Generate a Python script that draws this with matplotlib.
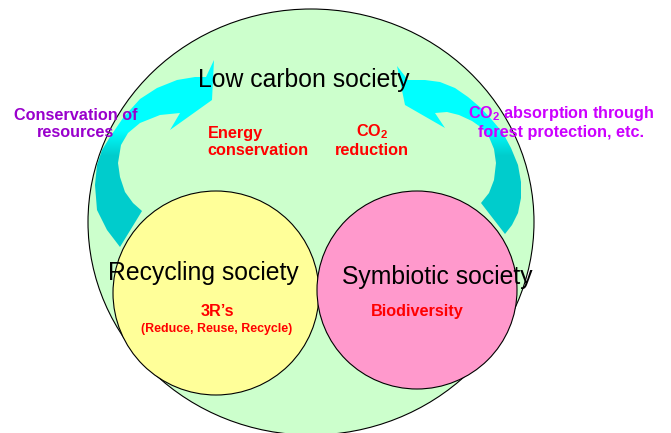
import numpy as np
import matplotlib.pyplot as plt
from matplotlib.patches import Ellipse, Polygon
from matplotlib.colors import LinearSegmentedColormap

plt.rcParams['font.family'] = ['Liberation Sans', 'DejaVu Sans']
plt.rcParams['mathtext.fontset'] = 'custom'
plt.rcParams['mathtext.rm'] = 'Liberation Sans:bold'
plt.rcParams['mathtext.bf'] = 'Liberation Sans:bold'

# society names and their labels
societies = ['Low carbon society', 'Recycling society', 'Symbiotic society']
inner_labels = ['Energy\nconservation', 'CO$_2$\nreduction', '3R\u2019s', 'Biodiversity']
sub_label = '(Reduce, Reuse, Recycle)'
side_labels = ['Conservation of\nresources', 'CO$_2$ absorption through\nforest protection, etc.']

# circles (pixel space): centre x, centre y, width, height
big = (311, 222, 446, 426)
recycle = (216, 293, 206, 204)
symbio = (417, 290, 200, 198)

# curved arrow outlines
left_arrow = [(120, 247), (107, 230), (97, 210), (95, 185), (97, 165), (102, 150),
              (110, 137), (123, 118), (140, 99), (157, 88), (177, 80), (195, 77),
              (206, 77), (214, 60), (212, 100), (170, 130), (180, 113), (160, 115),
              (140, 123), (128, 133), (121, 145), (118, 163), (120, 177), (125, 192),
              (133, 203), (142, 211)]
right_arrow = [(397, 66), (408, 80), (425, 80), (440, 82), (455, 88), (468, 97),
               (481, 108), (492, 120), (503, 133), (511, 148), (518, 165), (521, 182),
               (521, 198), (518, 213), (512, 225), (505, 234), (481, 203), (489, 193),
               (494, 180), (496, 163), (494, 149), (489, 137), (482, 128), (472, 121),
               (459, 115), (447, 112), (435, 113), (445, 128), (405, 105)]

fig = plt.figure(figsize=(6.71, 4.33), dpi=100)
ax = fig.add_axes([0, 0, 1, 1])

def circle(c, fc, z):
    ax.add_patch(Ellipse((c[0], c[1]), c[2], c[3], facecolor=fc,
                         edgecolor='black', lw=0.8, zorder=z))

circle(big, '#CCFFCC', 1)

cmap = LinearSegmentedColormap.from_list('arrow', ['#00FFFF', '#00CCCC'])
yy = np.arange(0, 433)
grad = np.clip((yy - 130) / 25.0, 0, 1)[:, None] * np.ones((1, 671))
for pts in [left_arrow, right_arrow]:
    poly = Polygon(pts, closed=True, facecolor='none', edgecolor='none', zorder=2)
    ax.add_patch(poly)
    im = ax.imshow(grad, cmap=cmap, extent=[0, 671, 433, 0], aspect='auto',
                   vmin=0, vmax=1, zorder=2, interpolation='bilinear')
    im.set_clip_path(poly)

circle(recycle, '#FFFF99', 3)
circle(symbio, '#FF99CC', 4)

big_font = dict(fontsize=17.8, color='black', ha='center', va='baseline', zorder=6)
ax.text(304, 87, societies[0], **big_font)
ax.text(203, 280, societies[1], **big_font)
ax.text(437, 284, societies[2], **big_font)

red = dict(fontsize=11.7, color='#FF0000', fontweight='bold', ha='center',
           va='baseline', zorder=6, linespacing=1.2)
ax.text(258, 155, inner_labels[0], multialignment='left', **red)
ax.text(372, 155, inner_labels[1], **red)
ax.text(217, 316, inner_labels[2], **red)
ax.text(417, 316, inner_labels[3], **red)
ax.text(217, 332, sub_label, fontsize=8.9, color='#FF0000', fontweight='bold',
        ha='center', va='baseline', zorder=6)

ax.text(76, 137, side_labels[0], fontsize=11.7, color='#9900CC', fontweight='bold',
        ha='center', va='baseline', zorder=6, linespacing=1.2)
ax.text(561, 137, side_labels[1], fontsize=11.7, color='#CC00FF', fontweight='bold',
        ha='center', va='baseline', zorder=6, linespacing=1.2)

ax.set_xlim(0, 671)
ax.set_ylim(433, 0)
ax.axis('off')
fig.savefig('out.png', dpi=100)
